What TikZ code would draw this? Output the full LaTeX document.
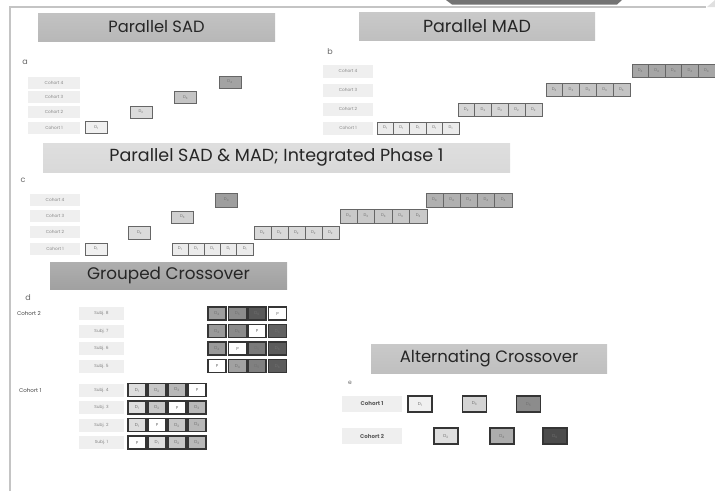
\documentclass[tikz,border=0pt]{standalone}
\usepackage{fontspec}
\setmainfont{Poppins}
\definecolor{framegray}{HTML}{C4C4C4}
\definecolor{lblfill}{HTML}{EFEFEF}
\definecolor{lbltext}{HTML}{858585}
\definecolor{celltext}{HTML}{707070}
\definecolor{cellline}{HTML}{666666}
\definecolor{thickline}{HTML}{353535}
\begin{document}
\begin{tikzpicture}[x=1pt,y=-1pt,
  banner/.style={rectangle, inner sep=0pt, minimum width=237pt, minimum height=28pt,
    font=\fontsize{16.3}{17}\selectfont, text=black!85, top color=black!#1!white!85, bottom color=black!#1},
  letter/.style={font=\fontsize{8}{8}\selectfont, text=black!60, inner sep=0pt},
  cohlbl/.style={rectangle, fill=lblfill, text=lbltext, inner sep=0pt,
    minimum width=52pt, minimum height=12pt, font=\fontsize{4.3}{4.3}\selectfont},
  thincell/.style={rectangle, draw=cellline, line width=0.8pt, fill=#1, text=celltext, inner sep=0pt,
    minimum width=22pt, minimum height=12pt, font=\fontsize{4}{4}\selectfont},
  thickcell/.style={rectangle, draw=thickline, line width=1.5pt, fill=#1, text=celltext, inner sep=0pt,
    minimum width=18pt, minimum height=13pt, font=\fontsize{4.3}{4.3}\selectfont},
  plaintxt/.style={font=\fontsize{5.5}{5.5}\selectfont, text=black!75, inner sep=0pt, anchor=west}
]
\useasboundingbox (0,0) rectangle (715,491);
% frame
\draw[framegray, line width=1.2pt] (10,491) -- (10,7) -- (706,7);
\fill[black!55] (446,0) -- (622,0) -- (617,4.5) -- (452,4.5) -- cycle;
\fill[black!12] (707,7) -- (715,0) -- (715,7) -- cycle;

% ===== a: Parallel SAD
\node[banner=28] (tSAD) at (156.5,27) {Parallel SAD};
\node[letter] (la) at (25,62) {a};
\node[cohlbl] (a4) at (54,82.5) {Cohort 4};
\node[cohlbl] (a3) at (54,97) {Cohort 3};
\node[cohlbl] (a2) at (54,112) {Cohort 2};
\node[cohlbl] (a1) at (54,127.5) {Cohort 1};
\node[thincell=black!6]  (aD1) at (96.5,127.5) {D\textsubscript{1}};
\node[thincell=black!14] (aD2) at (141,112) {D\textsubscript{2}};
\node[thincell=black!23] (aD3) at (185.5,97.5) {D\textsubscript{3}};
\node[thincell=black!36] (aD4) at (230,82) {D\textsubscript{4}};

% ===== b: Parallel MAD
\node[banner=25, minimum width=236pt, font=\fontsize{17.5}{18}\selectfont] (tMAD) at (477,26.5) {Parallel MAD};
\node[letter] (lb) at (330,52) {b};
\node[cohlbl, minimum width=50pt, minimum height=13pt] (b4) at (348,71) {Cohort 4};
\node[cohlbl, minimum width=50pt, minimum height=13pt] (b3) at (348,90) {Cohort 3};
\node[cohlbl, minimum width=50pt, minimum height=13pt] (b2) at (348,109) {Cohort 2};
\node[cohlbl, minimum width=50pt, minimum height=13pt] (b1) at (348,128) {Cohort 1};
\foreach \i in {0,...,4}{
  \node[thincell=black!8,  minimum width=16.4pt] (b1c\i) at ({385.2+16.4*\i},128) {D\textsubscript{1}};
  \node[thincell=black!16, minimum width=16.8pt, minimum height=13pt] (b2c\i) at ({466.4+16.8*\i},109.5) {D\textsubscript{2}};
  \node[thincell=black!23, minimum width=16.8pt, minimum height=13pt] (b3c\i) at ({554.4+16.8*\i},90) {D\textsubscript{3}};
  \node[thincell=black!35, minimum width=16.6pt, minimum height=13pt] (b4c\i) at ({640.3+16.6*\i},70.5) {D\textsubscript{4}};
}

% ===== c: Parallel SAD & MAD
\node[banner=15, minimum width=467pt, minimum height=29pt, font=\fontsize{17.5}{18}\selectfont] (tINT) at (276.5,157.5) {Parallel SAD \& MAD; Integrated Phase 1};
\node[letter] (lc) at (23,180) {c};
\node[cohlbl, minimum width=50pt] (c4) at (55,200) {Cohort 4};
\node[cohlbl, minimum width=50pt] (c3) at (55,216) {Cohort 3};
\node[cohlbl, minimum width=50pt] (c2) at (55,232) {Cohort 2};
\node[cohlbl, minimum width=50pt] (c1) at (55,248.5) {Cohort 1};
\node[thincell=black!6]  (cD1) at (96,249) {D\textsubscript{1}};
\node[thincell=black!14, minimum height=13pt] (cD2) at (139.5,232.5) {D\textsubscript{2}};
\node[thincell=black!18] (cD3) at (182.5,217) {D\textsubscript{3}};
\node[thincell=black!38, minimum height=14pt] (cD4) at (226.5,200) {D\textsubscript{4}};
\foreach \i in {0,...,4}{
  \node[thincell=black!8,  minimum width=16.2pt] (c1c\i) at ({180.1+16.2*\i},249) {D\textsubscript{1}};
  \node[thincell=black!15, minimum width=17pt, minimum height=13pt] (c2c\i) at ({262.5+17*\i},232.5) {D\textsubscript{2}};
  \node[thincell=black!21, minimum width=17.4pt, minimum height=14pt] (c3c\i) at ({348.7+17.4*\i},216) {D\textsubscript{3}};
  \node[thincell=black!31, minimum width=17.2pt, minimum height=14pt] (c4c\i) at ({434.6+17.2*\i},200) {D\textsubscript{4}};
}

% ===== d: Grouped Crossover
\node[banner=37, minimum height=27pt, font=\fontsize{16.8}{17}\selectfont] (tGRP) at (168.5,275.5) {Grouped Crossover};
\node[letter] (ld) at (28,298) {d};
\node[plaintxt] (dco2) at (17,313.5) {Cohort 2};
\node[plaintxt] (dco1) at (19,390) {Cohort 1};
\foreach \n/\y in {8/313.5,7/331,6/348.5,5/366,4/390,3/407.5,2/425,1/442.5}{
  \node[cohlbl, minimum width=45pt, minimum height=13pt] (s\n) at (101.5,\y) {Subj. \n};
}
% cohort 2 grid
\foreach \r/\y/\la/\fa/\lb/\fb/\lc/\fc/\ld/\fd in {
  8/313.5/D\textsubscript{4}/black!38/D\textsubscript{5}/black!45/D\textsubscript{6}/black!65/P/white,
  7/331/D\textsubscript{4}/black!40/D\textsubscript{5}/black!46/P/white/D\textsubscript{6}/black!62,
  6/348.5/D\textsubscript{4}/black!40/P/white/D\textsubscript{5}/black!52/D\textsubscript{6}/black!64,
  5/366/P/white/D\textsubscript{4}/black!37/D\textsubscript{5}/black!50/D\textsubscript{6}/black!64}{
  \node[thickcell=\fa] (g\r a) at (217,\y) {\la};
  \node[thickcell=\fb] (g\r b) at (237.5,\y) {\lb};
  \node[thickcell=\fc] (g\r c) at (257,\y) {\lc};
  \node[thickcell=\fd] (g\r d) at (277.5,\y) {\ld};
}
% cohort 1 grid
\foreach \r/\y/\la/\fa/\lb/\fb/\lc/\fc/\ld/\fd in {
  4/390/D\textsubscript{1}/black!13/D\textsubscript{2}/black!22/D\textsubscript{3}/black!28/P/white,
  3/407.5/D\textsubscript{1}/black!13/D\textsubscript{2}/black!22/P/white/D\textsubscript{3}/black!28,
  2/425/D\textsubscript{1}/black!13/P/white/D\textsubscript{2}/black!22/D\textsubscript{3}/black!28,
  1/442.5/P/white/D\textsubscript{1}/black!13/D\textsubscript{2}/black!22/D\textsubscript{3}/black!28}{
  \node[thickcell=\fa] (h\r a) at (137,\y) {\la};
  \node[thickcell=\fb] (h\r b) at (157,\y) {\lb};
  \node[thickcell=\fc] (h\r c) at (177,\y) {\lc};
  \node[thickcell=\fd] (h\r d) at (197,\y) {\ld};
}

% ===== e: Alternating Crossover
\node[banner=25, minimum width=236pt, minimum height=29pt, font=\fontsize{16.5}{17}\selectfont] (tALT) at (489,358.5) {Alternating Crossover};
\node[letter, font=\fontsize{6}{6}\selectfont] (le) at (350,383) {e};
\node[cohlbl, minimum width=60pt, minimum height=16pt, text=black!65, font=\fontsize{5.5}{5.5}\selectfont\bfseries] (e1) at (372,403.5) {Cohort 1};
\node[cohlbl, minimum width=60pt, minimum height=16pt, text=black!65, font=\fontsize{5.5}{5.5}\selectfont\bfseries] (e2) at (372,436) {Cohort 2};
\node[thickcell=black!6,  minimum width=24pt, minimum height=16pt] (eD1) at (420,404) {D\textsubscript{1}};
\node[thickcell=black!17, minimum width=24pt, minimum height=16pt] (eD3) at (474.5,404) {D\textsubscript{3}};
\node[thickcell=black!45, minimum width=24pt, minimum height=16pt] (eD5) at (528.5,404) {D\textsubscript{5}};
\node[thickcell=black!13, minimum width=24pt, minimum height=16pt] (eD2) at (446,436) {D\textsubscript{2}};
\node[thickcell=black!32, minimum width=24pt, minimum height=16pt] (eD4) at (502,436) {D\textsubscript{4}};
\node[thickcell=black!70, minimum width=24pt, minimum height=16pt] (eD6) at (555,436) {D\textsubscript{6}};
\end{tikzpicture}
\end{document}
